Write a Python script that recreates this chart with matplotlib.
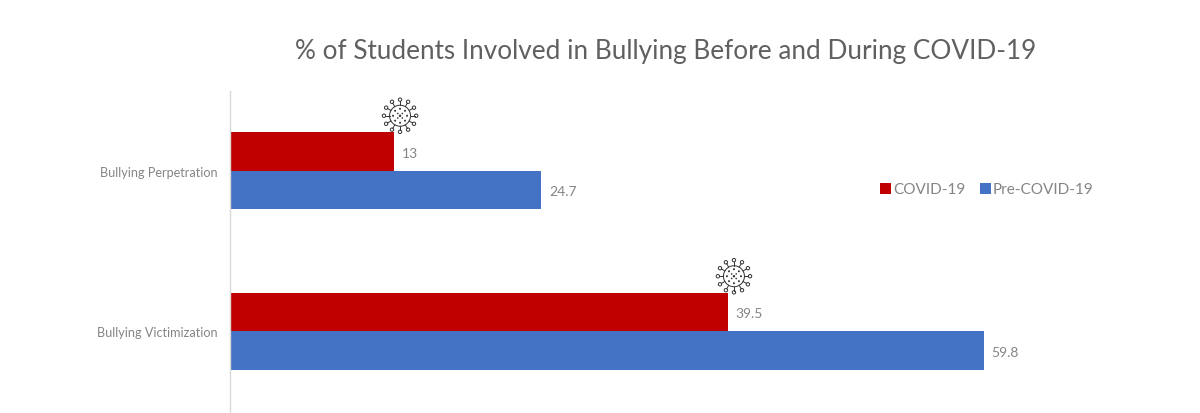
import numpy as np
import matplotlib
matplotlib.use('Agg')
import matplotlib.pyplot as plt
from matplotlib.patches import Circle
from matplotlib.lines import Line2D
from matplotlib.transforms import IdentityTransform

categories = ['Bullying Perpetration', 'Bullying Victimization']
covid = [13, 39.5]
pre_covid = [24.7, 59.8]

RED = '#C00000'
BLUE = '#4472C4'
INK = '#333333'

plt.rcParams['font.family'] = ['Lato', 'DejaVu Sans']


def draw_virus(ax, cx, cy, r=10.5):
    # small coronavirus icon, in pixel coordinates
    tf = IdentityTransform()
    ax.add_patch(Circle((cx, cy), r, fill=False, ec=INK, lw=0.7, transform=tf, clip_on=False, zorder=5))
    for a in np.arange(0, 2*np.pi, 2*np.pi/12):
        x0, y0 = cx + r*np.cos(a), cy + r*np.sin(a)
        x1, y1 = cx + (r+4)*np.cos(a), cy + (r+4)*np.sin(a)
        ax.add_line(Line2D([x0, x1], [y0, y1], color=INK, lw=0.7, transform=tf, clip_on=False, zorder=5))
        ax.add_patch(Circle((x1 + 1.6*np.cos(a), y1 + 1.6*np.sin(a)), 1.7, fill=False, ec=INK, lw=0.7,
                            transform=tf, clip_on=False, zorder=5))
    # dots inside the shell
    for a in np.arange(0, 2*np.pi, 2*np.pi/8):
        ax.add_patch(Circle((cx + 7*np.cos(a), cy + 7*np.sin(a)), 1.0, color=INK, lw=0,
                            transform=tf, clip_on=False, zorder=5))
    for a in np.arange(np.pi/4, 2*np.pi, np.pi/2):
        ax.add_patch(Circle((cx + 3.2*np.cos(a), cy + 3.2*np.sin(a)), 0.8, color=INK, lw=0,
                            transform=tf, clip_on=False, zorder=5))
    ax.add_patch(Circle((cx, cy), 1.2, color=INK, lw=0, transform=tf, clip_on=False, zorder=5))


fig = plt.figure(figsize=(12, 4.14), dpi=100)
ax = fig.add_axes([230.25/1200, 1 - 412.5/414, 1000/1200, 321/414])

y = np.arange(len(categories))
h = 0.24
bars_covid = ax.barh(y - h/2, covid, h, color=RED, label='COVID-19')
bars_pre = ax.barh(y + h/2, pre_covid, h, color=BLUE, label='Pre-COVID-19')

ax.set_xlim(0, 1000/12.6)
ax.set_ylim(1.5, -0.5)
ax.set_yticks(y, categories)
ax.set_xticks([])
ax.tick_params(axis='y', length=0, pad=9, labelsize=9.1, labelcolor='#858585')

for s in ['top', 'right', 'bottom']:
    ax.spines[s].set_visible(False)
ax.spines['left'].set_color('#d9d9d9')
ax.spines['left'].set_linewidth(1)

for bars in (bars_covid, bars_pre):
    for lab in ax.bar_label(bars, padding=5.5, fontsize=10, color='#858585'):
        lab.xyann = (5.5, -1)

fig.text(666/1200, 1 - 52/414, '% of Students Involved in Bullying Before and During COVID-19',
         ha='center', va='center', fontsize=18.8, color='#606060')

ax.legend(loc='center left', bbox_to_anchor=((866 - 230.25)/1000, (412.5 - 190.5)/321), ncol=2, frameon=False,
          labelcolor='#858585', handlelength=0.72, handleheight=0.72, handletextpad=0.15,
          columnspacing=0.95, prop={'size': 11})

# icons sit just above the end of each COVID-19 bar
fig.canvas.draw()
for i, v in enumerate(covid):
    px, py = ax.transData.transform((v, i - h))
    draw_virus(ax, px + 6, py + 16.5)

fig.savefig('out.png', dpi=100)
